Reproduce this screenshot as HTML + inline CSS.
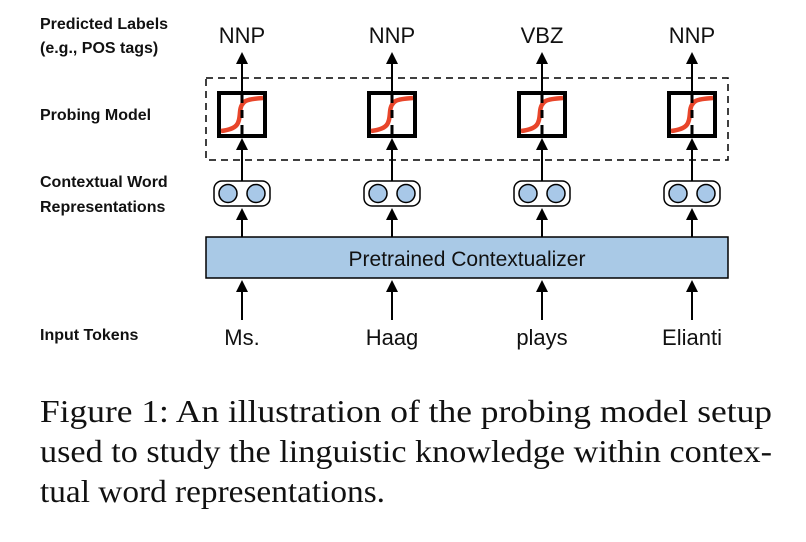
<!DOCTYPE html>
<html><head><meta charset="utf-8"><style>
html,body{margin:0;padding:0;background:#fff;}
svg{display:block}
.lab{font-family:"Liberation Sans",sans-serif;font-weight:bold;font-size:16px;fill:#111}
.tag{font-family:"Liberation Sans",sans-serif;font-size:22px;fill:#111}
.cap{font-family:"Liberation Serif",serif;font-size:32px;fill:#111}
</style></head><body>
<svg width="806" height="542" viewBox="0 0 806 542" xmlns="http://www.w3.org/2000/svg">
<defs>
<g id="col">
  <line x1="0" y1="62" x2="0" y2="98" stroke="#000" stroke-width="2"/>
  <polygon points="-6,64 6,64 0,52" fill="#000"/>
  <rect x="-23" y="93" width="46" height="43" fill="#fff" stroke="#000" stroke-width="4"/>
  <path d="M-21,131 C-4,129 -3,124 -2,112 C-1,100 5,99 21,98" fill="none" stroke="#e8452a" stroke-width="4.5"/>
  <line x1="0" y1="93" x2="0" y2="103" stroke="#000" stroke-width="3"/>
  <line x1="0" y1="110" x2="0" y2="118" stroke="#000" stroke-width="3"/>
  <line x1="0" y1="125" x2="0" y2="135" stroke="#000" stroke-width="3"/>
  <line x1="0" y1="148" x2="0" y2="181" stroke="#000" stroke-width="2"/>
  <polygon points="-6,150 6,150 0,138" fill="#000"/>
  <rect x="-28" y="181" width="56" height="25" rx="8" fill="#fff" stroke="#000" stroke-width="1.5"/>
  <circle cx="-14" cy="193.5" r="9" fill="#a8c8e8" stroke="#000" stroke-width="1.5"/>
  <circle cx="14" cy="193.5" r="9" fill="#a8c8e8" stroke="#000" stroke-width="1.5"/>
  <line x1="0" y1="218" x2="0" y2="237" stroke="#000" stroke-width="2"/>
  <polygon points="-6,220 6,220 0,208" fill="#000"/>
  <line x1="0" y1="290" x2="0" y2="320" stroke="#000" stroke-width="2"/>
  <polygon points="-6,292 6,292 0,280" fill="#000"/>
</g>
</defs>
<rect x="206" y="78" width="522" height="82" fill="none" stroke="#000" stroke-width="1.5" stroke-dasharray="7,5"/>
<use href="#col" x="242"/>
<use href="#col" x="392"/>
<use href="#col" x="542"/>
<use href="#col" x="692"/>
<rect x="206" y="237" width="522" height="41" fill="#a9c9e6" stroke="#000" stroke-width="1.5"/>
<text class="tag" x="467" y="266" text-anchor="middle" style="font-size:21px">Pretrained Contextualizer</text>

<text class="tag" x="242" y="43" text-anchor="middle">NNP</text>
<text class="tag" x="392" y="43" text-anchor="middle">NNP</text>
<text class="tag" x="542" y="43" text-anchor="middle">VBZ</text>
<text class="tag" x="692" y="43" text-anchor="middle">NNP</text>

<text class="tag" x="242" y="345" text-anchor="middle">Ms.</text>
<text class="tag" x="392" y="345" text-anchor="middle">Haag</text>
<text class="tag" x="542" y="345" text-anchor="middle">plays</text>
<text class="tag" x="692" y="345" text-anchor="middle">Elianti</text>

<text class="lab" x="40" y="29">Predicted Labels</text>
<text class="lab" x="40" y="53">(e.g., POS tags)</text>
<text class="lab" x="40" y="120">Probing Model</text>
<text class="lab" x="40" y="187">Contextual Word</text>
<text class="lab" x="40" y="212">Representations</text>
<text class="lab" x="40" y="340">Input Tokens</text>

<text class="cap" x="40" y="422" textLength="732" lengthAdjust="spacingAndGlyphs">Figure 1:  An illustration of the probing model setup</text>
<text class="cap" x="40" y="462" textLength="732" lengthAdjust="spacingAndGlyphs">used to study the linguistic knowledge within contex-</text>
<text class="cap" x="40" y="502" textLength="345" lengthAdjust="spacingAndGlyphs">tual word representations.</text>
</svg>
</body></html>
